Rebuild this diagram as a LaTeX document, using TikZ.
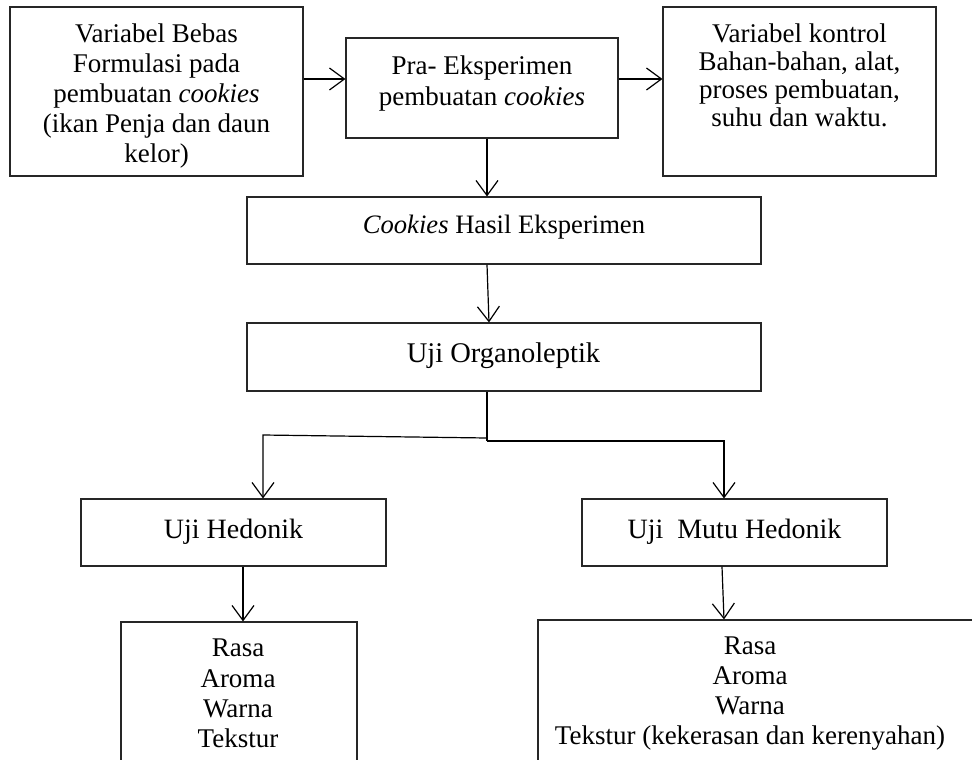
\documentclass[tikz,border=0pt]{standalone}
\usepackage{fontspec}
\setmainfont{Liberation Serif}
\usetikzlibrary{arrows.meta}
\tikzset{
  box/.style={draw=black!85, line width=1.1pt, inner sep=0pt, rectangle},
  txt/.style={inner sep=0pt, align=center, font=\fontsize{27}{30}\selectfont},
  arr/.style={draw=black, line width=1.2pt, -{Straight Barb[length=15pt,width=22pt,line width=1.2pt]}},
  ln/.style={draw=black, line width=1.2pt}
}
\begin{document}
\begin{tikzpicture}[x=1pt,y=-1pt]
\useasboundingbox (0,0) rectangle (972,760);
\clip (0,0) rectangle (972,760);
% boxes
\node[box, minimum width=293pt, minimum height=169pt] (b1) at (156.5,91.5) {};
\node[box, minimum width=272pt, minimum height=100pt] (b2) at (482,88) {};
\node[box, minimum width=273pt, minimum height=169pt] (b3) at (799.5,91.5) {};
\node[box, minimum width=514pt, minimum height=67pt] (b4) at (504,230.5) {};
\node[box, minimum width=514pt, minimum height=68pt] (b5) at (504,357) {};
\node[box, minimum width=305pt, minimum height=67pt] (b6) at (233.5,532.5) {};
\node[box, minimum width=305pt, minimum height=67pt] (b7) at (734.5,532.5) {};
\node[box, minimum width=236pt, minimum height=178pt] (b8) at (239,711) {};
\node[box, minimum width=462pt, minimum height=180pt] (b9) at (769,710) {};
% texts
\node[txt] (t1) at (156.5,96.2) {Variabel Bebas\\Formulasi pada\\pembuatan \textit{cookies}\\(ikan Penja dan daun\\kelor)};
\node[txt, font=\fontsize{27}{31}\selectfont] (t2) at (482,83.2) {Pra- Eksperimen\\pembuatan \textit{cookies}};
\node[txt, font=\fontsize{27}{28.3}\selectfont] (t3) at (799.5,75.3) {Variabel kontrol\\Bahan-bahan, alat,\\proses pembuatan,\\suhu dan waktu.};
\node[txt, anchor=base, font=\fontsize{26.6}{30}\selectfont] (t4) at (504,233) {\textit{Cookies} Hasil Eksperimen};
\node[txt, anchor=base, font=\fontsize{28.5}{30}\selectfont] (t5) at (503.5,362) {Uji Organoleptik};
\node[txt, anchor=base, font=\fontsize{28}{30}\selectfont] (t6) at (233.5,538) {Uji Hedonik};
\node[txt, anchor=base, font=\fontsize{28}{30}\selectfont] (t7) at (734.5,538) {Uji\ \ Mutu Hedonik};
\node[txt, font=\fontsize{27}{30.3}\selectfont] (t8) at (238,693.5) {Rasa\\Aroma\\Warna\\Tekstur};
\node[txt, font=\fontsize{27}{30}\selectfont] (t9) at (750,693.4) {Rasa\\Aroma\\Warna\\Tekstur (kekerasan dan kerenyahan)};
% junction coordinates
\coordinate (j) at (487,438);
\coordinate (jl) at (263,435);
\coordinate (j2) at (487,441);
\coordinate (jr) at (724,441);
% connectors
\draw[arr] ([yshift=12.5pt]b1.east) -- ([yshift=9pt]b2.west);
\draw[arr] ([yshift=9pt]b2.east) -- ([yshift=12.5pt]b3.west);
\draw[arr] ([xshift=5pt]b2.south) -- ([xshift=-17pt]b4.north);
\draw[arr] ([xshift=-17pt]b4.south) -- ([xshift=-15pt]b5.north);
\draw[ln] ([xshift=-17pt]b5.south) -- (j2);
\draw[arr] (j) -- (jl) -- ([xshift=29.5pt]b6.north);
\draw[arr] (j2) -- (jr) -- ([xshift=-10.5pt]b7.north);
\draw[arr] ([xshift=9.5pt]b6.south) -- ([xshift=4pt]b8.north);
\draw[arr] ([xshift=-12.5pt]b7.south) -- ([xshift=-45pt]b9.north);
\end{tikzpicture}
\end{document}
